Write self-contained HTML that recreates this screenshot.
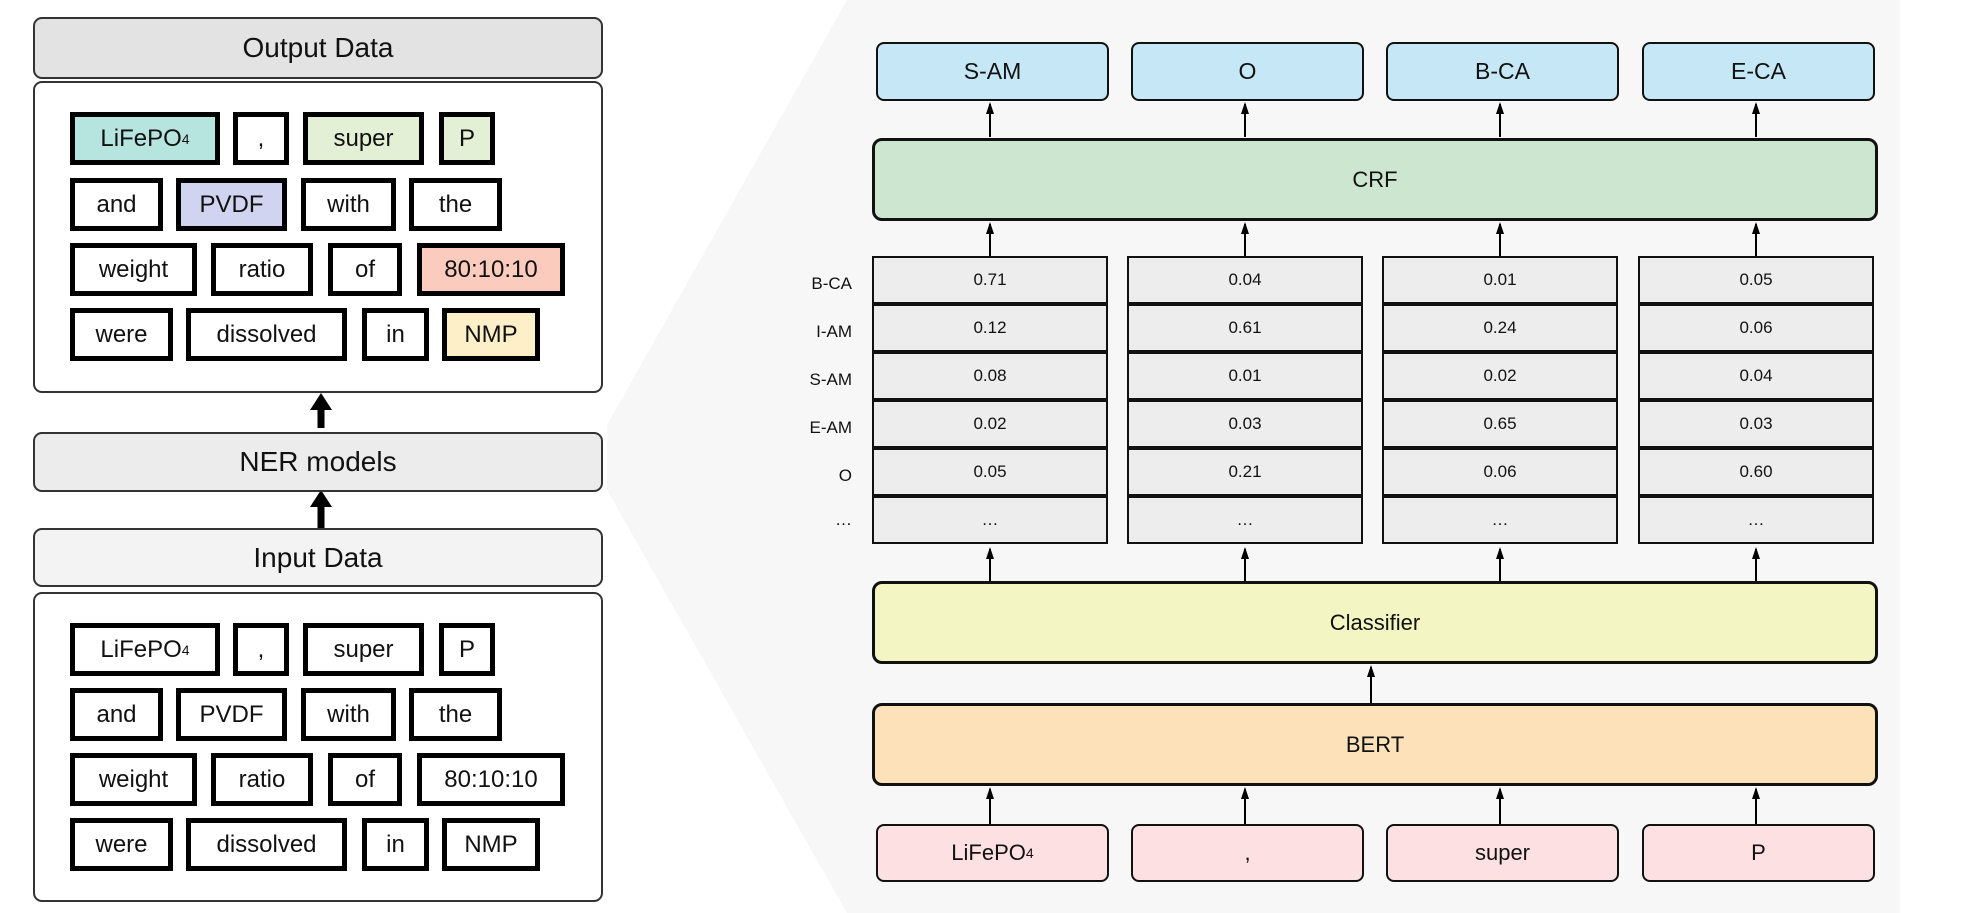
<!DOCTYPE html>
<html><head><meta charset="utf-8"><style>
*{margin:0;padding:0;box-sizing:border-box}
body{width:1986px;height:913px;background:#fff;position:relative;overflow:hidden;font-family:"Liberation Sans",sans-serif;color:#111}
.a{position:absolute}
.hd{position:absolute;left:33px;width:570px;border:2px solid #333;border-radius:9px;display:flex;align-items:center;justify-content:center;font-size:28px}
.bd{position:absolute;left:33px;width:570px;border:2px solid #333;border-radius:9px;background:#fff}
.t{position:absolute;height:53px;border:5px solid #000;background:#fff;display:flex;align-items:center;justify-content:center;font-size:24px}
.b{position:absolute;border:3px solid #111;border-radius:10px;display:flex;align-items:center;justify-content:center;font-size:22px}
.c{position:absolute;height:48px;border:2px solid #111;background:#ededed;display:flex;align-items:center;justify-content:center;font-size:17px}
.l{position:absolute;width:80px;left:772px;text-align:right;font-size:17px}
sub{font-size:14px;vertical-align:-3px;line-height:0}
</style></head><body>
<svg class="a" style="left:0;top:0" width="1986" height="913">
<polygon points="847,0 1900,0 1900,913 847,913 607,490 607,425" fill="#f7f7f7"/>
<g stroke="#000" stroke-width="7" fill="none">
<line x1="321" y1="400" x2="321" y2="428"/>
<line x1="321" y1="497" x2="321" y2="528"/>
</g>
<g fill="#000">
<polygon points="310,410 321,393 332,410"/>
<polygon points="310,507 321,490 332,507"/>
</g>
<g stroke="#000" stroke-width="2">
<line x1="990" y1="137" x2="990" y2="104"/><line x1="1245" y1="137" x2="1245" y2="104"/><line x1="1500" y1="137" x2="1500" y2="104"/><line x1="1756" y1="137" x2="1756" y2="104"/>
<line x1="990" y1="256" x2="990" y2="224"/><line x1="1245" y1="256" x2="1245" y2="224"/><line x1="1500" y1="256" x2="1500" y2="224"/><line x1="1756" y1="256" x2="1756" y2="224"/>
<line x1="990" y1="582" x2="990" y2="549"/><line x1="1245" y1="582" x2="1245" y2="549"/><line x1="1500" y1="582" x2="1500" y2="549"/><line x1="1756" y1="582" x2="1756" y2="549"/>
<line x1="1371" y1="704" x2="1371" y2="667"/>
<line x1="990" y1="824" x2="990" y2="789"/><line x1="1245" y1="824" x2="1245" y2="789"/><line x1="1500" y1="824" x2="1500" y2="789"/><line x1="1756" y1="824" x2="1756" y2="789"/>
</g>
<g fill="#000">
<polygon points="986,114 990,102 994,114"/><polygon points="1241,114 1245,102 1249,114"/><polygon points="1496,114 1500,102 1504,114"/><polygon points="1752,114 1756,102 1760,114"/>
<polygon points="986,234 990,222 994,234"/><polygon points="1241,234 1245,222 1249,234"/><polygon points="1496,234 1500,222 1504,234"/><polygon points="1752,234 1756,222 1760,234"/>
<polygon points="986,559 990,547 994,559"/><polygon points="1241,559 1245,547 1249,559"/><polygon points="1496,559 1500,547 1504,559"/><polygon points="1752,559 1756,547 1760,559"/>
<polygon points="1367,677 1371,665 1375,677"/>
<polygon points="986,799 990,787 994,799"/><polygon points="1241,799 1245,787 1249,799"/><polygon points="1496,799 1500,787 1504,799"/><polygon points="1752,799 1756,787 1760,799"/>
</g>
</svg>

<div class="hd" style="top:17px;height:62px;background:#e3e3e3">Output Data</div>
<div class="bd" style="top:81px;height:312px"></div>
<div class="t" style="left:70px;top:112px;width:150px;background:#b6e4df">LiFePO<sub>4</sub></div>
<div class="t" style="left:233px;top:112px;width:56px">,</div>
<div class="t" style="left:303px;top:112px;width:121px;background:#e3f0d6">super</div>
<div class="t" style="left:439px;top:112px;width:56px;background:#e3f0d6">P</div>
<div class="t" style="left:70px;top:178px;width:93px">and</div>
<div class="t" style="left:176px;top:178px;width:111px;background:#d0d4f0">PVDF</div>
<div class="t" style="left:301px;top:178px;width:95px">with</div>
<div class="t" style="left:409px;top:178px;width:93px">the</div>
<div class="t" style="left:70px;top:243px;width:127px">weight</div>
<div class="t" style="left:211px;top:243px;width:102px">ratio</div>
<div class="t" style="left:328px;top:243px;width:74px">of</div>
<div class="t" style="left:417px;top:243px;width:148px;background:#fbcbbd">80:10:10</div>
<div class="t" style="left:70px;top:308px;width:103px">were</div>
<div class="t" style="left:186px;top:308px;width:161px">dissolved</div>
<div class="t" style="left:362px;top:308px;width:67px">in</div>
<div class="t" style="left:442px;top:308px;width:98px;background:#fdf0c8">NMP</div>

<div class="hd" style="top:432px;height:60px;background:#ececec">NER models</div>

<div class="hd" style="top:528px;height:59px;background:#f3f3f3">Input Data</div>
<div class="bd" style="top:592px;height:310px"></div>
<div class="t" style="left:70px;top:623px;width:150px">LiFePO<sub>4</sub></div>
<div class="t" style="left:233px;top:623px;width:56px">,</div>
<div class="t" style="left:303px;top:623px;width:121px">super</div>
<div class="t" style="left:439px;top:623px;width:56px">P</div>
<div class="t" style="left:70px;top:688px;width:93px">and</div>
<div class="t" style="left:176px;top:688px;width:111px">PVDF</div>
<div class="t" style="left:301px;top:688px;width:95px">with</div>
<div class="t" style="left:409px;top:688px;width:93px">the</div>
<div class="t" style="left:70px;top:753px;width:127px">weight</div>
<div class="t" style="left:211px;top:753px;width:102px">ratio</div>
<div class="t" style="left:328px;top:753px;width:74px">of</div>
<div class="t" style="left:417px;top:753px;width:148px">80:10:10</div>
<div class="t" style="left:70px;top:818px;width:103px">were</div>
<div class="t" style="left:186px;top:818px;width:161px">dissolved</div>
<div class="t" style="left:362px;top:818px;width:67px">in</div>
<div class="t" style="left:442px;top:818px;width:98px">NMP</div>

<div class="b" style="left:876px;top:42px;width:233px;height:59px;background:#c5e7f6;border-width:2px;border-radius:8px;font-size:23px">S-AM</div>
<div class="b" style="left:1131px;top:42px;width:233px;height:59px;background:#c5e7f6;border-width:2px;border-radius:8px;font-size:23px">O</div>
<div class="b" style="left:1386px;top:42px;width:233px;height:59px;background:#c5e7f6;border-width:2px;border-radius:8px;font-size:23px">B-CA</div>
<div class="b" style="left:1642px;top:42px;width:233px;height:59px;background:#c5e7f6;border-width:2px;border-radius:8px;font-size:23px">E-CA</div>

<div class="b" style="left:872px;top:138px;width:1006px;height:83px;background:#cde6cf">CRF</div>

<div class="l" style="top:274px">B-CA</div>
<div class="l" style="top:322px">I-AM</div>
<div class="l" style="top:370px">S-AM</div>
<div class="l" style="top:418px">E-AM</div>
<div class="l" style="top:466px">O</div>
<div class="l" style="top:510px">…</div>

<div class="c" style="left:872px;top:256px;width:236px">0.71</div>
<div class="c" style="left:872px;top:304px;width:236px">0.12</div>
<div class="c" style="left:872px;top:352px;width:236px">0.08</div>
<div class="c" style="left:872px;top:400px;width:236px">0.02</div>
<div class="c" style="left:872px;top:448px;width:236px">0.05</div>
<div class="c" style="left:872px;top:496px;width:236px">…</div>
<div class="c" style="left:1127px;top:256px;width:236px">0.04</div>
<div class="c" style="left:1127px;top:304px;width:236px">0.61</div>
<div class="c" style="left:1127px;top:352px;width:236px">0.01</div>
<div class="c" style="left:1127px;top:400px;width:236px">0.03</div>
<div class="c" style="left:1127px;top:448px;width:236px">0.21</div>
<div class="c" style="left:1127px;top:496px;width:236px">…</div>
<div class="c" style="left:1382px;top:256px;width:236px">0.01</div>
<div class="c" style="left:1382px;top:304px;width:236px">0.24</div>
<div class="c" style="left:1382px;top:352px;width:236px">0.02</div>
<div class="c" style="left:1382px;top:400px;width:236px">0.65</div>
<div class="c" style="left:1382px;top:448px;width:236px">0.06</div>
<div class="c" style="left:1382px;top:496px;width:236px">…</div>
<div class="c" style="left:1638px;top:256px;width:236px">0.05</div>
<div class="c" style="left:1638px;top:304px;width:236px">0.06</div>
<div class="c" style="left:1638px;top:352px;width:236px">0.04</div>
<div class="c" style="left:1638px;top:400px;width:236px">0.03</div>
<div class="c" style="left:1638px;top:448px;width:236px">0.60</div>
<div class="c" style="left:1638px;top:496px;width:236px">…</div>

<div class="b" style="left:872px;top:581px;width:1006px;height:83px;background:#f3f5c2">Classifier</div>
<div class="b" style="left:872px;top:703px;width:1006px;height:83px;background:#fde2b9">BERT</div>

<div class="b" style="left:876px;top:824px;width:233px;height:58px;background:#fde0e2;border-width:2px;border-radius:8px;font-size:22px">LiFePO<sub>4</sub></div>
<div class="b" style="left:1131px;top:824px;width:233px;height:58px;background:#fde0e2;border-width:2px;border-radius:8px;font-size:22px">,</div>
<div class="b" style="left:1386px;top:824px;width:233px;height:58px;background:#fde0e2;border-width:2px;border-radius:8px;font-size:22px">super</div>
<div class="b" style="left:1642px;top:824px;width:233px;height:58px;background:#fde0e2;border-width:2px;border-radius:8px;font-size:22px">P</div>
</body></html>
